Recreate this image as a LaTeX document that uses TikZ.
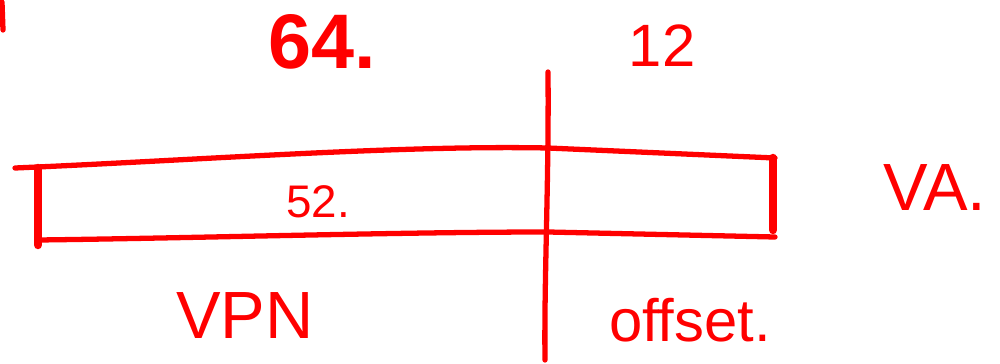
\documentclass[tikz,border=0pt]{standalone}
\usepackage{fontspec}
\setmainfont{Liberation Sans}
\definecolor{pen}{HTML}{FF0000}
\tikzset{
  stroke/.style={draw=pen, line width=1.5pt, line cap=round, line join=round},
  thickstroke/.style={draw=pen, line width=2.4pt, line cap=round},
  lbl/.style={text=pen, inner sep=0pt, anchor=center},
}
\begin{document}
\begin{tikzpicture}[x=0.01cm, y=-0.01cm]
\useasboundingbox (0,0) rectangle (1000,364);
% box
\draw[stroke] (15,168) .. controls (200,160) and (400,145) .. (548,148) -- (775,158);
\draw[stroke] (38,240) .. controls (200,238) and (400,232) .. (548,232) -- (775,237);
\draw[thickstroke] (38,168) -- (38,245);
\draw[thickstroke] (773,158) -- (773,230);
% divider
\draw[stroke] (548,72) .. controls (549,180) and (544,280) .. (545,360);
% tiny mark
\draw[stroke] (2,2) -- (3,30);
% labels
\node[lbl, font=\bfseries\fontsize{22}{24}\selectfont] (w64) at (322,42) {64.};
\node[lbl, font=\fontsize{17}{20}\selectfont] (w12) at (662,46) {12};
\node[lbl, font=\fontsize{13}{15}\selectfont] (w52) at (318,202) {52.};
\node[lbl, font=\fontsize{19}{22}\selectfont] (va) at (935,188) {VA.};
\node[lbl, font=\fontsize{19}{22}\selectfont] (vpn) at (245,316) {VPN};
\node[lbl, font=\fontsize{17}{20}\selectfont] (off) at (690,320) {offset.};
\end{tikzpicture}
\end{document}
